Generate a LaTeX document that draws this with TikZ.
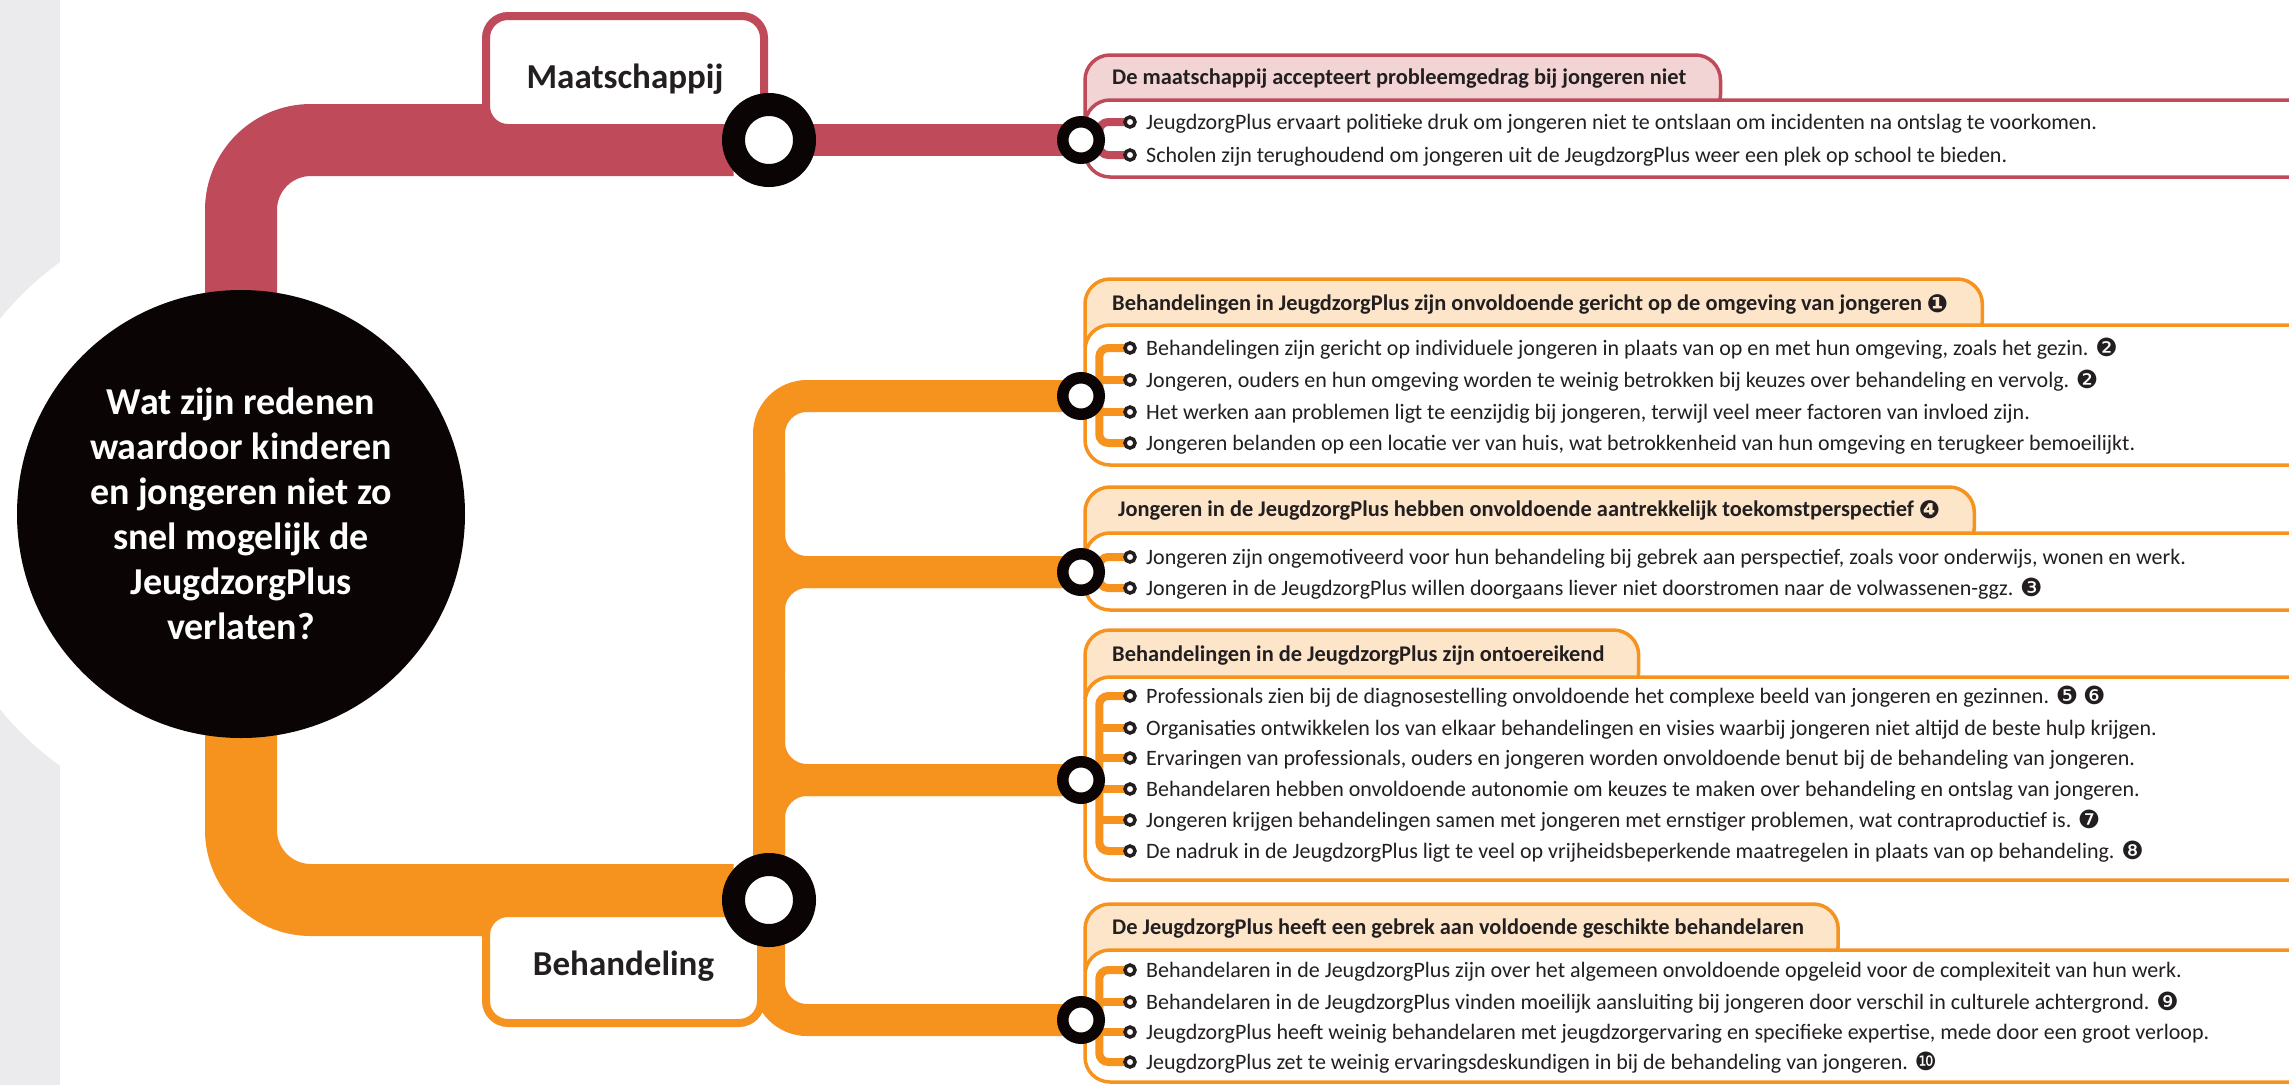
\documentclass[tikz,border=0pt]{standalone}
\usepackage{fontspec}
\setmainfont{Carlito}
\newfontfamily\dejavu{DejaVu Sans}
\usepackage{xcolor}
\usetikzlibrary{positioning,calc}

\definecolor{rood}{HTML}{BF4A5A}
\definecolor{roodlicht}{HTML}{F2D4D4}
\definecolor{oranje}{HTML}{F6931F}
\definecolor{oranjelicht}{HTML}{FDE5C9}
\definecolor{inkt}{HTML}{231F20}
\definecolor{zwart}{HTML}{0A0404}
\definecolor{paneel}{HTML}{EBEBED}

\pgfdeclarelayer{achter}
\pgfdeclarelayer{lijnen}
\pgfsetlayers{achter,lijnen,main}

\newcommand{\cijfer}[1]{\raisebox{-1.5pt}{\dejavu\fontsize{25}{25}\selectfont #1}}

\tikzset{
	halte/.style={circle, draw=zwart, fill=white, line width=23pt, minimum size=71pt, inner sep=0pt, outer sep=0pt},
	halteklein/.style={circle, draw=zwart, fill=white, line width=11.5pt, minimum size=36.5pt, inner sep=0pt, outer sep=0pt},
	bol/.style={circle, draw=inkt, fill=white, line width=3.5pt, minimum size=10pt, inner sep=0pt, outer sep=0pt},
	punt/.style={anchor=west, inner sep=0pt, text height=14pt, text depth=0pt, text=inkt, font=\fontsize{22}{22}\selectfont},
	kop/.style={anchor=west, inner sep=0pt, text height=15pt, text depth=0pt, text=inkt, font=\bfseries\fontsize{22.4}{22.4}\selectfont},
	thema/.style={draw=#1, fill=white, line width=8pt, rounded corners=22pt, minimum width=278pt, minimum height=112pt, text=inkt, font=\bfseries\fontsize{35}{35}\selectfont},
	stam/.style={draw=#1, line width=72pt, rounded corners=70pt},
	tak/.style={draw=#1, line width=32pt, rounded corners=38pt},
	draad/.style={draw=#1, line width=8pt, rounded corners=9pt},
	tab/.style={draw=#1, fill=#1licht, line width=3.5pt},
	vak/.style={draw=#1, fill=white, line width=3.5pt, rounded corners=25pt},
}

\begin{document}
\begin{tikzpicture}[x=1pt, y=-1pt]
	\useasboundingbox (0,0) rectangle (2289,1085);

	\node[circle, fill=zwart, minimum size=448pt, inner sep=0pt, text=white, align=center, font=\bfseries\fontsize{38}{45}\selectfont] (vraag) at (241,514) {Wat zijn redenen\\waardoor kinderen\\en jongeren niet zo\\snel mogelijk de\\JeugdzorgPlus\\verlaten?};

	\node[thema=rood, text height=32pt, text depth=0pt] (maat) at (625,72) {Maatschappij};
	\node[thema=oranje, minimum width=275pt, minimum height=110pt, text height=14pt, text depth=0pt] (beh) at (623.5,968) {Behandeling};

	\node[halte] (hM) at (769,140) {};
	\node[halte] (hB) at (769,900) {};
	\node[halteklein] (h1) at (1081,140) {};
	\node[halteklein] (h2) at (1081,396) {};
	\node[halteklein] (h3) at (1081,572) {};
	\node[halteklein] (h4) at (1081,780) {};
	\node[halteklein] (h5) at (1081,1020) {};

	\node[kop] (k1) at (1112,77) {De maatschappij accepteert probleemgedrag bij jongeren niet};
	\node[punt] (p11) at (1146,122) {JeugdzorgPlus ervaart politieke druk om jongeren niet te ontslaan om incidenten na ontslag te voorkomen.};
	\node[punt] (p12) at (1146,155) {Scholen zijn terughoudend om jongeren uit de JeugdzorgPlus weer een plek op school te bieden.};

	\node[kop] (k2) at (1112,303) {Behandelingen in JeugdzorgPlus zijn onvoldoende gericht op de omgeving van jongeren \cijfer{❶}};
	\node[punt] (p21) at (1146,348) {Behandelingen zijn gericht op individuele jongeren in plaats van op en met hun omgeving, zoals het gezin. \cijfer{❷}};
	\node[punt] (p22) at (1146,380) {Jongeren, ouders en hun omgeving worden te weinig betrokken bij keuzes over behandeling en vervolg. \cijfer{❷}};
	\node[punt] (p23) at (1146,412) {Het werken aan problemen ligt te eenzijdig bij jongeren, terwijl veel meer factoren van invloed zijn.};
	\node[punt] (p24) at (1146,443) {Jongeren belanden op een locatie ver van huis, wat betrokkenheid van hun omgeving en terugkeer bemoeilijkt.};

	\node[kop] (k3) at (1118,509) {Jongeren in de JeugdzorgPlus hebben onvoldoende aantrekkelijk toekomstperspectief \cijfer{❹}};
	\node[punt] (p31) at (1146,557) {Jongeren zijn ongemotiveerd voor hun behandeling bij gebrek aan perspectief, zoals voor onderwijs, wonen en werk.};
	\node[punt] (p32) at (1146,588) {Jongeren in de JeugdzorgPlus willen doorgaans liever niet doorstromen naar de volwassenen-ggz. \cijfer{❸}};

	\node[kop] (k4) at (1112,654) {Behandelingen in de JeugdzorgPlus zijn ontoereikend};
	\node[punt] (p41) at (1146,696) {Professionals zien bij de diagnosestelling onvoldoende het complexe beeld van jongeren en gezinnen. \cijfer{❺} \cijfer{❻}};
	\node[punt] (p42) at (1146,728) {Organisaties ontwikkelen los van elkaar behandelingen en visies waarbij jongeren niet altijd de beste hulp krijgen.};
	\node[punt] (p43) at (1146,758) {Ervaringen van professionals, ouders en jongeren worden onvoldoende benut bij de behandeling van jongeren.};
	\node[punt] (p44) at (1146,789) {Behandelaren hebben onvoldoende autonomie om keuzes te maken over behandeling en ontslag van jongeren.};
	\node[punt] (p45) at (1146,820) {Jongeren krijgen behandelingen samen met jongeren met ernstiger problemen, wat contraproductief is. \cijfer{❼}};
	\node[punt] (p46) at (1146,851) {De nadruk in de JeugdzorgPlus ligt te veel op vrijheidsbeperkende maatregelen in plaats van op behandeling. \cijfer{❽}};

	\node[kop] (k5) at (1112,927) {De JeugdzorgPlus heeft een gebrek aan voldoende geschikte behandelaren};
	\node[punt] (p51) at (1146,970) {Behandelaren in de JeugdzorgPlus zijn over het algemeen onvoldoende opgeleid voor de complexiteit van hun werk.};
	\node[punt] (p52) at (1146,1002) {Behandelaren in de JeugdzorgPlus vinden moeilijk aansluiting bij jongeren door verschil in culturele achtergrond. \cijfer{❾}};
	\node[punt] (p53) at (1146,1032) {JeugdzorgPlus heeft weinig behandelaren met jeugdzorgervaring en specifieke expertise, mede door een groot verloop.};
	\node[punt] (p54) at (1146,1062) {JeugdzorgPlus zet te weinig ervaringsdeskundigen in bij de behandeling van jongeren. \cijfer{❿}};

	\node[bol, left=11pt of p11] (b11) {};
	\node[bol, left=11pt of p12] (b12) {};
	\node[bol, left=11pt of p21] (b21) {};
	\node[bol, left=11pt of p22] (b22) {};
	\node[bol, left=11pt of p23] (b23) {};
	\node[bol, left=11pt of p24] (b24) {};
	\node[bol, left=11pt of p31] (b31) {};
	\node[bol, left=11pt of p32] (b32) {};
	\node[bol, left=11pt of p41] (b41) {};
	\node[bol, left=11pt of p42] (b42) {};
	\node[bol, left=11pt of p43] (b43) {};
	\node[bol, left=11pt of p44] (b44) {};
	\node[bol, left=11pt of p45] (b45) {};
	\node[bol, left=11pt of p46] (b46) {};
	\node[bol, left=11pt of p51] (b51) {};
	\node[bol, left=11pt of p52] (b52) {};
	\node[bol, left=11pt of p53] (b53) {};
	\node[bol, left=11pt of p54] (b54) {};

	\begin{pgfonlayer}{achter}
		\fill[white] (0,0) rectangle (2289,1085);
		\fill[paneel] (0,0) rectangle (60,1085);
		\fill[white] (vraag.center) circle (310pt);
		\clip (0,0) rectangle (2289,1085);
		\filldraw[tab=rood] (1085,120) [rounded corners=25pt] -- (1085,55) -| ($(k1.east)+(34,43)$) [sharp corners] -- cycle;
		\filldraw[vak=rood] (1085,100) rectangle (2330,177);
		\filldraw[tab=oranje] (1085,345) [rounded corners=25pt] -- (1085,279) -| ($(k2.east)+(34,43)$) [sharp corners] -- cycle;
		\filldraw[vak=oranje] (1085,325) rectangle (2330,465);
		\filldraw[tab=oranje] (1085,553) [rounded corners=25pt] -- (1085,487) -| ($(k3.east)+(34,43)$) [sharp corners] -- cycle;
		\filldraw[vak=oranje] (1085,533) rectangle (2330,610);
		\filldraw[tab=oranje] (1085,697) [rounded corners=25pt] -- (1085,630) -| ($(k4.east)+(34,43)$) [sharp corners] -- cycle;
		\filldraw[vak=oranje] (1085,677) rectangle (2330,880);
		\filldraw[tab=oranje] (1085,970) [rounded corners=25pt] -- (1085,904) -| ($(k5.east)+(34,43)$) [sharp corners] -- cycle;
		\filldraw[vak=oranje] (1085,950) rectangle (2330,1082);
	\end{pgfonlayer}

	\begin{pgfonlayer}{lijnen}
		\draw[stam=rood] (vraag.center) |- (hM);
		\draw[stam=oranje] (vraag.center) |- (hB);
		\draw[tak=rood] (hM) -- (h1);
		\draw[tak=oranje] (h2) -| (hB.center);
		\draw[tak=oranje] (hB.center) |- (h5);
		\draw[tak=oranje] ($(hB |- h3)+(0,-100)$) |- (h3);
		\draw[tak=oranje] ($(hB |- h3)+(0,100)$) |- (h3);
		\draw[tak=oranje] ($(hB |- h4)+(0,-100)$) |- (h4);
		\draw[tak=oranje] (hB.center) |- (h4);
		\draw[draad=rood] (b11) -| (h1.east |- b12) -- (b12);
		\draw[draad=oranje] (b21) -| (h2.east |- b24) -- (b24);
		\draw[draad=oranje] (h2.east |- b22) -- (b22);
		\draw[draad=oranje] (h2.east |- b23) -- (b23);
		\draw[draad=oranje] (b31) -| (h3.east |- b32) -- (b32);
		\draw[draad=oranje] (b41) -| (h4.east |- b46) -- (b46);
		\draw[draad=oranje] (h4.east |- b42) -- (b42);
		\draw[draad=oranje] (h4.east |- b43) -- (b43);
		\draw[draad=oranje] (h4.east |- b44) -- (b44);
		\draw[draad=oranje] (h4.east |- b45) -- (b45);
		\draw[draad=oranje] (b51) -| (h5.east |- b54) -- (b54);
		\draw[draad=oranje] (h5.east |- b52) -- (b52);
		\draw[draad=oranje] (h5.east |- b53) -- (b53);
	\end{pgfonlayer}
\end{tikzpicture}
\end{document}
